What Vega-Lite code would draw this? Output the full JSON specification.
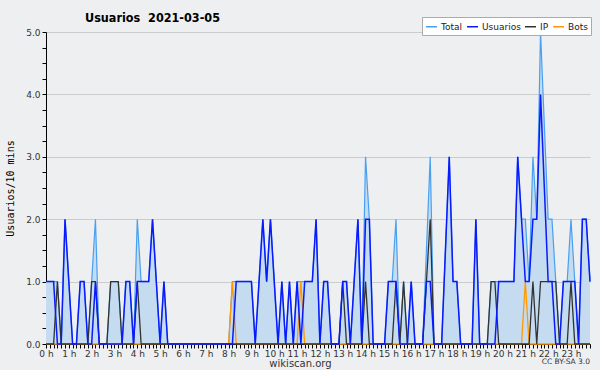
{
  "$schema": "https://vega.github.io/schema/vega-lite/v6.json",
  "width": 544,
  "height": 312,
  "autosize": {"type": "none"},
  "padding": {"left": 46, "top": 32, "right": 10, "bottom": 26},
  "background": "#eeeff1",
  "config": {"view": {"stroke": null}, "font": "DejaVu Sans"},
  "title": {"text": "Usuarios\u00a0 2021-03-05", "anchor": "start", "frame": "group", "dx": 39, "fontSize": 12.5, "font": "DejaVu Sans Condensed, DejaVu Sans", "fontWeight": "bold", "color": "#000000", "baseline": "alphabetic", "offset": -18},
  "data": {"values": [
    {"i":0,"Total":1,"Usuarios":1,"IP":0,"Bots":0},
    {"i":1,"Total":1,"Usuarios":1,"IP":0,"Bots":0},
    {"i":2,"Total":1,"Usuarios":1,"IP":0,"Bots":0},
    {"i":3,"Total":1,"Usuarios":0,"IP":1,"Bots":0},
    {"i":4,"Total":0,"Usuarios":0,"IP":0,"Bots":0},
    {"i":5,"Total":2,"Usuarios":2,"IP":0,"Bots":0},
    {"i":6,"Total":1,"Usuarios":1,"IP":0,"Bots":0},
    {"i":7,"Total":0,"Usuarios":0,"IP":0,"Bots":0},
    {"i":8,"Total":0,"Usuarios":0,"IP":0,"Bots":0},
    {"i":9,"Total":1,"Usuarios":1,"IP":0,"Bots":0},
    {"i":10,"Total":1,"Usuarios":1,"IP":0,"Bots":0},
    {"i":11,"Total":0,"Usuarios":0,"IP":0,"Bots":0},
    {"i":12,"Total":1,"Usuarios":0,"IP":1,"Bots":0},
    {"i":13,"Total":2,"Usuarios":1,"IP":1,"Bots":0},
    {"i":14,"Total":0,"Usuarios":0,"IP":0,"Bots":0},
    {"i":15,"Total":0,"Usuarios":0,"IP":0,"Bots":0},
    {"i":16,"Total":0,"Usuarios":0,"IP":0,"Bots":0},
    {"i":17,"Total":1,"Usuarios":0,"IP":1,"Bots":0},
    {"i":18,"Total":1,"Usuarios":0,"IP":1,"Bots":0},
    {"i":19,"Total":1,"Usuarios":0,"IP":1,"Bots":0},
    {"i":20,"Total":0,"Usuarios":0,"IP":0,"Bots":0},
    {"i":21,"Total":1,"Usuarios":1,"IP":0,"Bots":0},
    {"i":22,"Total":1,"Usuarios":1,"IP":0,"Bots":0},
    {"i":23,"Total":0,"Usuarios":0,"IP":0,"Bots":0},
    {"i":24,"Total":2,"Usuarios":1,"IP":1,"Bots":0},
    {"i":25,"Total":1,"Usuarios":1,"IP":0,"Bots":0},
    {"i":26,"Total":1,"Usuarios":1,"IP":0,"Bots":0},
    {"i":27,"Total":1,"Usuarios":1,"IP":0,"Bots":0},
    {"i":28,"Total":2,"Usuarios":2,"IP":0,"Bots":0},
    {"i":29,"Total":1,"Usuarios":1,"IP":0,"Bots":0},
    {"i":30,"Total":0,"Usuarios":0,"IP":0,"Bots":0},
    {"i":31,"Total":1,"Usuarios":1,"IP":0,"Bots":0},
    {"i":32,"Total":0,"Usuarios":0,"IP":0,"Bots":0},
    {"i":33,"Total":0,"Usuarios":0,"IP":0,"Bots":0},
    {"i":34,"Total":0,"Usuarios":0,"IP":0,"Bots":0},
    {"i":35,"Total":0,"Usuarios":0,"IP":0,"Bots":0},
    {"i":36,"Total":0,"Usuarios":0,"IP":0,"Bots":0},
    {"i":37,"Total":0,"Usuarios":0,"IP":0,"Bots":0},
    {"i":38,"Total":0,"Usuarios":0,"IP":0,"Bots":0},
    {"i":39,"Total":0,"Usuarios":0,"IP":0,"Bots":0},
    {"i":40,"Total":0,"Usuarios":0,"IP":0,"Bots":0},
    {"i":41,"Total":0,"Usuarios":0,"IP":0,"Bots":0},
    {"i":42,"Total":0,"Usuarios":0,"IP":0,"Bots":0},
    {"i":43,"Total":0,"Usuarios":0,"IP":0,"Bots":0},
    {"i":44,"Total":0,"Usuarios":0,"IP":0,"Bots":0},
    {"i":45,"Total":0,"Usuarios":0,"IP":0,"Bots":0},
    {"i":46,"Total":0,"Usuarios":0,"IP":0,"Bots":0},
    {"i":47,"Total":0,"Usuarios":0,"IP":0,"Bots":0},
    {"i":48,"Total":0,"Usuarios":0,"IP":0,"Bots":0},
    {"i":49,"Total":1,"Usuarios":0,"IP":0,"Bots":1},
    {"i":50,"Total":1,"Usuarios":1,"IP":0,"Bots":0},
    {"i":51,"Total":1,"Usuarios":1,"IP":0,"Bots":0},
    {"i":52,"Total":1,"Usuarios":1,"IP":0,"Bots":0},
    {"i":53,"Total":1,"Usuarios":1,"IP":0,"Bots":0},
    {"i":54,"Total":1,"Usuarios":1,"IP":0,"Bots":0},
    {"i":55,"Total":0,"Usuarios":0,"IP":0,"Bots":0},
    {"i":56,"Total":1,"Usuarios":1,"IP":0,"Bots":0},
    {"i":57,"Total":2,"Usuarios":2,"IP":0,"Bots":0},
    {"i":58,"Total":1,"Usuarios":1,"IP":0,"Bots":0},
    {"i":59,"Total":2,"Usuarios":2,"IP":0,"Bots":0},
    {"i":60,"Total":1,"Usuarios":1,"IP":0,"Bots":0},
    {"i":61,"Total":0,"Usuarios":0,"IP":0,"Bots":0},
    {"i":62,"Total":1,"Usuarios":1,"IP":0,"Bots":0},
    {"i":63,"Total":0,"Usuarios":0,"IP":0,"Bots":0},
    {"i":64,"Total":1,"Usuarios":1,"IP":0,"Bots":0},
    {"i":65,"Total":0,"Usuarios":0,"IP":0,"Bots":0},
    {"i":66,"Total":1,"Usuarios":1,"IP":0,"Bots":0},
    {"i":67,"Total":1,"Usuarios":0,"IP":0,"Bots":1},
    {"i":68,"Total":1,"Usuarios":1,"IP":0,"Bots":0},
    {"i":69,"Total":1,"Usuarios":1,"IP":0,"Bots":0},
    {"i":70,"Total":1,"Usuarios":1,"IP":0,"Bots":0},
    {"i":71,"Total":2,"Usuarios":2,"IP":0,"Bots":0},
    {"i":72,"Total":0,"Usuarios":0,"IP":0,"Bots":0},
    {"i":73,"Total":1,"Usuarios":1,"IP":0,"Bots":0},
    {"i":74,"Total":1,"Usuarios":1,"IP":0,"Bots":0},
    {"i":75,"Total":0,"Usuarios":0,"IP":0,"Bots":0},
    {"i":76,"Total":0,"Usuarios":0,"IP":0,"Bots":0},
    {"i":77,"Total":0,"Usuarios":0,"IP":0,"Bots":0},
    {"i":78,"Total":1,"Usuarios":1,"IP":1,"Bots":0},
    {"i":79,"Total":1,"Usuarios":1,"IP":0,"Bots":0},
    {"i":80,"Total":0,"Usuarios":0,"IP":0,"Bots":0},
    {"i":81,"Total":1,"Usuarios":1,"IP":0,"Bots":0},
    {"i":82,"Total":2,"Usuarios":2,"IP":0,"Bots":0},
    {"i":83,"Total":0,"Usuarios":0,"IP":0,"Bots":0},
    {"i":84,"Total":3,"Usuarios":2,"IP":1,"Bots":0},
    {"i":85,"Total":2,"Usuarios":2,"IP":0,"Bots":0},
    {"i":86,"Total":0,"Usuarios":0,"IP":0,"Bots":0},
    {"i":87,"Total":0,"Usuarios":0,"IP":0,"Bots":0},
    {"i":88,"Total":0,"Usuarios":0,"IP":0,"Bots":0},
    {"i":89,"Total":0,"Usuarios":0,"IP":0,"Bots":0},
    {"i":90,"Total":1,"Usuarios":1,"IP":0,"Bots":0},
    {"i":91,"Total":1,"Usuarios":1,"IP":0,"Bots":0},
    {"i":92,"Total":2,"Usuarios":1,"IP":1,"Bots":0},
    {"i":93,"Total":0,"Usuarios":0,"IP":0,"Bots":0},
    {"i":94,"Total":1,"Usuarios":0,"IP":1,"Bots":0},
    {"i":95,"Total":0,"Usuarios":0,"IP":0,"Bots":0},
    {"i":96,"Total":1,"Usuarios":1,"IP":0,"Bots":0},
    {"i":97,"Total":0,"Usuarios":0,"IP":0,"Bots":0},
    {"i":98,"Total":0,"Usuarios":0,"IP":0,"Bots":0},
    {"i":99,"Total":0,"Usuarios":0,"IP":0,"Bots":0},
    {"i":100,"Total":1.5,"Usuarios":1,"IP":1,"Bots":0},
    {"i":101,"Total":3,"Usuarios":1,"IP":2,"Bots":0},
    {"i":102,"Total":0,"Usuarios":0,"IP":0,"Bots":0},
    {"i":103,"Total":0,"Usuarios":0,"IP":0,"Bots":0},
    {"i":104,"Total":0,"Usuarios":0,"IP":0,"Bots":0},
    {"i":105,"Total":1.5,"Usuarios":1.5,"IP":0,"Bots":0},
    {"i":106,"Total":3,"Usuarios":3,"IP":0,"Bots":0},
    {"i":107,"Total":1,"Usuarios":1,"IP":0,"Bots":0},
    {"i":108,"Total":1,"Usuarios":1,"IP":0,"Bots":0},
    {"i":109,"Total":0,"Usuarios":0,"IP":0,"Bots":0},
    {"i":110,"Total":0,"Usuarios":0,"IP":0,"Bots":0},
    {"i":111,"Total":0,"Usuarios":0,"IP":0,"Bots":0},
    {"i":112,"Total":0,"Usuarios":0,"IP":0,"Bots":0},
    {"i":113,"Total":2,"Usuarios":2,"IP":0,"Bots":0},
    {"i":114,"Total":0,"Usuarios":0,"IP":0,"Bots":0},
    {"i":115,"Total":0,"Usuarios":0,"IP":0,"Bots":0},
    {"i":116,"Total":0,"Usuarios":0,"IP":0,"Bots":0},
    {"i":117,"Total":1,"Usuarios":0,"IP":1,"Bots":0},
    {"i":118,"Total":1,"Usuarios":0,"IP":1,"Bots":0},
    {"i":119,"Total":1,"Usuarios":1,"IP":0,"Bots":0},
    {"i":120,"Total":1,"Usuarios":1,"IP":0,"Bots":0},
    {"i":121,"Total":1,"Usuarios":1,"IP":0,"Bots":0},
    {"i":122,"Total":1,"Usuarios":1,"IP":0,"Bots":0},
    {"i":123,"Total":1,"Usuarios":1,"IP":0,"Bots":0},
    {"i":124,"Total":3,"Usuarios":3,"IP":0,"Bots":0},
    {"i":125,"Total":2,"Usuarios":2,"IP":0,"Bots":0},
    {"i":126,"Total":2,"Usuarios":1,"IP":0,"Bots":1},
    {"i":127,"Total":1,"Usuarios":1,"IP":0,"Bots":0},
    {"i":128,"Total":3,"Usuarios":2,"IP":1,"Bots":0},
    {"i":129,"Total":2,"Usuarios":2,"IP":0,"Bots":0},
    {"i":130,"Total":5,"Usuarios":4,"IP":1,"Bots":0},
    {"i":131,"Total":3.5,"Usuarios":2.5,"IP":1,"Bots":0},
    {"i":132,"Total":2,"Usuarios":1,"IP":1,"Bots":0},
    {"i":133,"Total":2,"Usuarios":1,"IP":1,"Bots":0},
    {"i":134,"Total":1,"Usuarios":0,"IP":1,"Bots":0},
    {"i":135,"Total":0,"Usuarios":0,"IP":0,"Bots":0},
    {"i":136,"Total":1,"Usuarios":1,"IP":0,"Bots":0},
    {"i":137,"Total":1,"Usuarios":1,"IP":0,"Bots":0},
    {"i":138,"Total":2,"Usuarios":1,"IP":1,"Bots":0},
    {"i":139,"Total":1,"Usuarios":1,"IP":0,"Bots":0},
    {"i":140,"Total":0,"Usuarios":0,"IP":0,"Bots":0},
    {"i":141,"Total":2,"Usuarios":2,"IP":0,"Bots":0},
    {"i":142,"Total":2,"Usuarios":2,"IP":0,"Bots":0},
    {"i":143,"Total":1,"Usuarios":1,"IP":0,"Bots":0}
  ]},
  "encoding": {
    "x": {
      "field": "i", "type": "quantitative",
      "scale": {"domain": [0, 143], "nice": false, "zero": false},
      "axis": {
        "values": [0,1,2,3,4,5,6,7,8,9,10,11,12,13,14,15,16,17,18,19,20,21,22,23,24,25,26,27,28,29,30,31,32,33,34,35,36,37,38,39,40,41,42,43,44,45,46,47,48,49,50,51,52,53,54,55,56,57,58,59,60,61,62,63,64,65,66,67,68,69,70,71,72,73,74,75,76,77,78,79,80,81,82,83,84,85,86,87,88,89,90,91,92,93,94,95,96,97,98,99,100,101,102,103,104,105,106,107,108,109,110,111,112,113,114,115,116,117,118,119,120,121,122,123,124,125,126,127,128,129,130,131,132,133,134,135,136,137,138,139,140,141,142,143],
        "labelExpr": "datum.value % 6 === 0 ? (datum.value / 6) + ' h' : ''",
        "labelOverlap": false, "labelFlush": false, "labelBound": false,
        "labelFontSize": 9, "labelColor": "#333333", "labelPadding": 1,
        "tickSize": 4, "tickColor": "#000000", "tickWidth": 1,
        "domainColor": "#000000", "domainWidth": 1,
        "grid": false,
        "title": "wikiscan.org", "titleFontSize": 10, "titleFontWeight": "normal", "titleColor": "#333333",
        "titleX": 254, "titleY": 22, "titleBaseline": "alphabetic", "titleAnchor": "middle"
      }
    },
    "y": {
      "field": "value", "type": "quantitative",
      "scale": {"domain": [0, 5], "nice": false},
      "axis": {
        "values": [0,0.25,0.5,0.75,1,1.25,1.5,1.75,2,2.25,2.5,2.75,3,3.25,3.5,3.75,4,4.25,4.5,4.75,5],
        "labelExpr": "datum.value % 1 === 0 ? format(datum.value, '.1f') : ''",
        "labelOverlap": false, "labelFlush": false, "labelBound": false,
        "labelFontSize": 9, "labelColor": "#333333", "labelPadding": 2,
        "tickSize": 4, "tickColor": "#000000",
        "domainColor": "#000000", "domainWidth": 1,
        "grid": true,
        "gridColor": {"condition": {"test": "datum.value % 1 === 0 && datum.value > 0", "value": "#cccccc"}, "value": "rgba(0,0,0,0)"},
        "gridWidth": 1,
        "title": "Usuarios/10 mins", "titleFont": "DejaVu Sans Mono", "titleFontSize": 10, "titleFontWeight": "normal", "titleColor": "#000000",
        "titleAngle": -90, "titleX": -36, "titleY": 156, "titleAlign": "center", "titleBaseline": "middle"
      }
    }
  },
  "layer": [
    {
      "transform": [{"fold": ["Total"], "as": ["serie", "value"]}],
      "mark": {"type": "area", "color": "#c5dcf0", "opacity": 1, "interpolate": "linear"}
    },
    {
      "transform": [{"fold": ["Total"], "as": ["serie", "value"]}],
      "mark": {"type": "line", "strokeWidth": 1.2, "interpolate": "linear"},
      "encoding": {
        "color": {
          "datum": "Total", "type": "nominal",
          "scale": {"domain": ["Total", "Usuarios", "IP", "Bots"], "range": ["#48a0f0", "#0a1aff", "#333333", "#ff9900"]},
          "legend": {
            "orient": "none", "legendX": 376, "legendY": -15, "direction": "horizontal", "columns": 4,
            "title": null, "fillColor": "#ffffff", "strokeColor": "#aaaaaa", "padding": 3,
            "symbolType": "stroke", "symbolSize": 121, "symbolStrokeWidth": 1.5,
            "labelFontSize": 9, "labelFont": "DejaVu Sans", "labelColor": "#222222",
            "columnPadding": 1, "labelOffset": 3
          }
        }
      }
    },
    {
      "transform": [{"fold": ["Bots"], "as": ["serie", "value"]}],
      "mark": {"type": "line", "strokeWidth": 1.3, "interpolate": "linear"},
      "encoding": {"color": {"datum": "Bots", "type": "nominal"}}
    },
    {
      "transform": [{"fold": ["IP"], "as": ["serie", "value"]}],
      "mark": {"type": "line", "strokeWidth": 1.3, "interpolate": "linear"},
      "encoding": {"color": {"datum": "IP", "type": "nominal"}}
    },
    {
      "transform": [{"fold": ["Usuarios"], "as": ["serie", "value"]}],
      "mark": {"type": "line", "strokeWidth": 1.5, "interpolate": "linear"},
      "encoding": {"color": {"datum": "Usuarios", "type": "nominal"}}
    },
    {
      "transform": [{"fold": ["Usuarios"], "as": ["serie", "value"]}, {"filter": "datum.i === 143"}],
      "mark": {"type": "text", "clip": false, "align": "right", "baseline": "top", "dy": 14, "fontSize": 7.5, "fill": "#333333", "text": "CC BY-SA 3.0"},
      "encoding": {
        "x": {"field": "i", "type": "quantitative"},
        "y": {"datum": 0, "type": "quantitative"}
      }
    }
  ]
}
